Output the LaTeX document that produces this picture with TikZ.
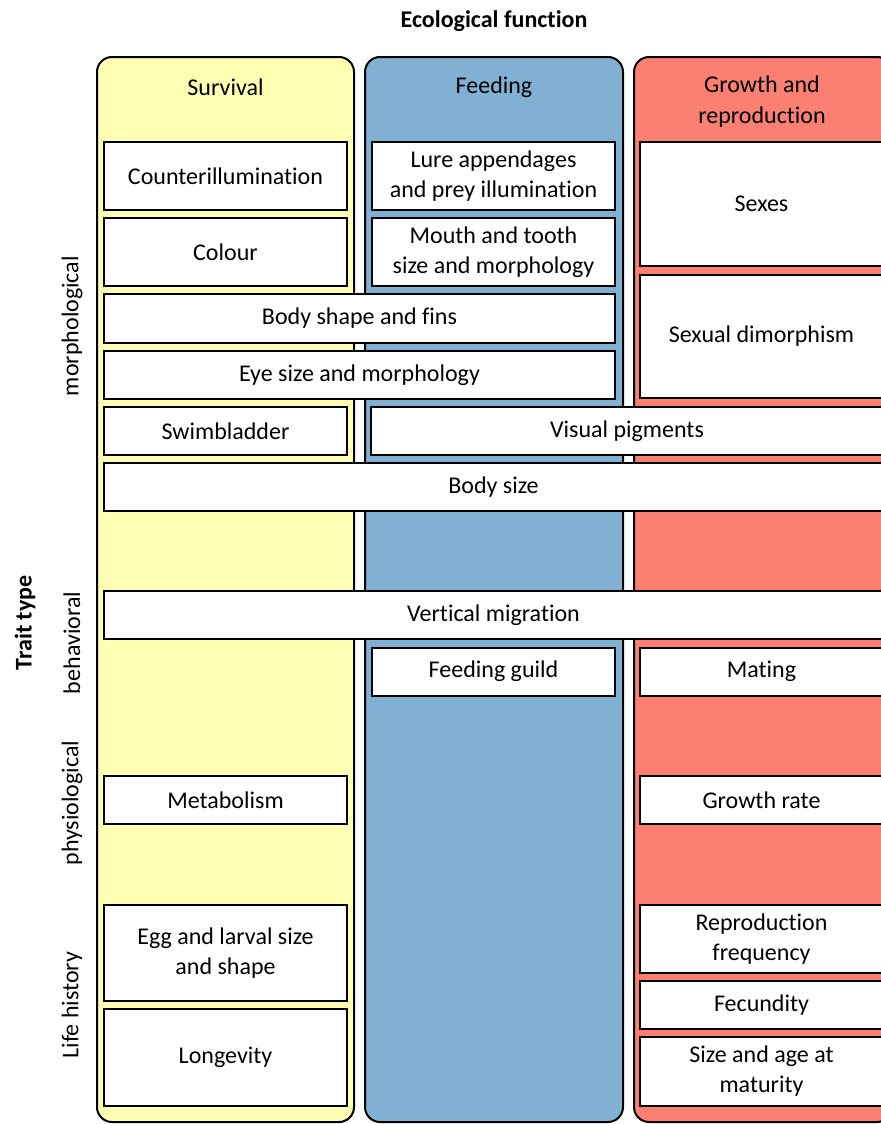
\documentclass[tikz,border=0pt]{standalone}
\usepackage{fontspec}
\setmainfont[Ligatures={NoCommon}]{Carlito}
\usetikzlibrary{positioning}
\definecolor{survcol}{HTML}{FFFFB3}
\definecolor{feedcol}{HTML}{80B1D3}
\definecolor{growcol}{HTML}{FB8072}
\tikzset{
  column/.style={draw=black, line width=1pt, rounded corners=7.5pt},
  trait/.style={draw=black, fill=white, line width=1pt, align=center, inner sep=0pt,
    font=\fontsize{12}{15}\selectfont},
  head/.style={align=center, font=\fontsize{12}{15.5}\selectfont},
  side/.style={rotate=90, font=\fontsize{12}{15}\selectfont},
}

\begin{document}
\begin{tikzpicture}[x=0.5pt, y=-0.5pt]
    \clip (0,0) rectangle (881,1124);
    % title
    \node[head, font=\fontsize{12}{15}\selectfont\bfseries] (title) at (494,21) {Ecological function};
    % columns
    \draw[column, fill=survcol] (97,57) rectangle (354,1122);
    \draw[column, fill=feedcol] (365,57) rectangle (623,1122);
    \draw[column, fill=growcol] (634,57) rectangle (892,1122);
    \node[head] (survival) at (225.5,87) {Survival};
    \node[head] (feeding) at (494,87) {Feeding};
    \node[head] (growthrep) at (762,102) {Growth and\\reproduction};
    % trait type labels
    \node[side, font=\fontsize{12}{15}\selectfont\bfseries] (traittype) at (25,623) {Trait type};
    \node[side] (morpho) at (72,326) {morphological};
    \node[side] (behav) at (72,643) {behavioral};
    \node[side] (physio) at (72,803) {physiological};
    \node[side] (lifehist) at (72,1005) {Life history};
    % morphological
    \node[trait, minimum width=121.5pt, minimum height=34pt] (counter) at (225.5,176) {Counterillumination};
    \node[trait, minimum width=121.5pt, minimum height=34pt] (colour) at (225.5,252) {Colour};
    \node[trait, minimum width=121.5pt, minimum height=34pt] (lure) at (493.5,176) {Lure appendages\\and prey illumination};
    \node[trait, minimum width=121.5pt, minimum height=34pt] (mouth) at (493.5,252) {Mouth and tooth\\size and morphology};
    \node[trait, minimum width=121.5pt, minimum height=62pt] (sexes) at (761.5,204) {Sexes};
    \node[trait, minimum width=121.5pt, minimum height=61.5pt] (dimorph) at (761.5,336.5) {Sexual dimorphism};
    \node[trait, minimum width=255.5pt, minimum height=24.5pt] (bodyshape) at (359.5,318.5) {Body shape and fins};
    \node[trait, minimum width=255.5pt, minimum height=24pt] (eyesize) at (359.5,375) {Eye size and morphology};
    \node[trait, minimum width=121.5pt, minimum height=24pt] (swim) at (225.5,431) {Swimbladder};
    \node[trait, minimum width=256pt, minimum height=24pt] (pigments) at (627,431) {Visual pigments};
    \node[trait, minimum width=389.5pt, minimum height=24pt] (bodysize) at (493.5,487) {Body size};
    % behavioral
    \node[trait, minimum width=389.5pt, minimum height=24pt] (migration) at (493.5,615) {Vertical migration};
    \node[trait, minimum width=121.5pt, minimum height=24pt] (guild) at (493.5,671.5) {Feeding guild};
    \node[trait, minimum width=121.5pt, minimum height=24pt] (mating) at (761.5,671.5) {Mating};
    % physiological
    \node[trait, minimum width=121.5pt, minimum height=24pt] (metab) at (225.5,800) {Metabolism};
    \node[trait, minimum width=121.5pt, minimum height=24pt] (growth) at (761.5,800) {Growth rate};
    % life history
    \node[trait, minimum width=121.5pt, minimum height=48pt] (egg) at (225.5,953) {Egg and larval size\\and shape};
    \node[trait, minimum width=121.5pt, minimum height=48.5pt] (longev) at (225.5,1057.5) {Longevity};
    \node[trait, minimum width=121.5pt, minimum height=34pt] (reprofreq) at (761.5,939) {Reproduction\\frequency};
    \node[trait, minimum width=121.5pt, minimum height=24pt] (fecund) at (761.5,1005) {Fecundity};
    \node[trait, minimum width=121.5pt, minimum height=34.5pt] (maturity) at (761.5,1071.5) {Size and age at\\maturity};
\end{tikzpicture}
\end{document}
